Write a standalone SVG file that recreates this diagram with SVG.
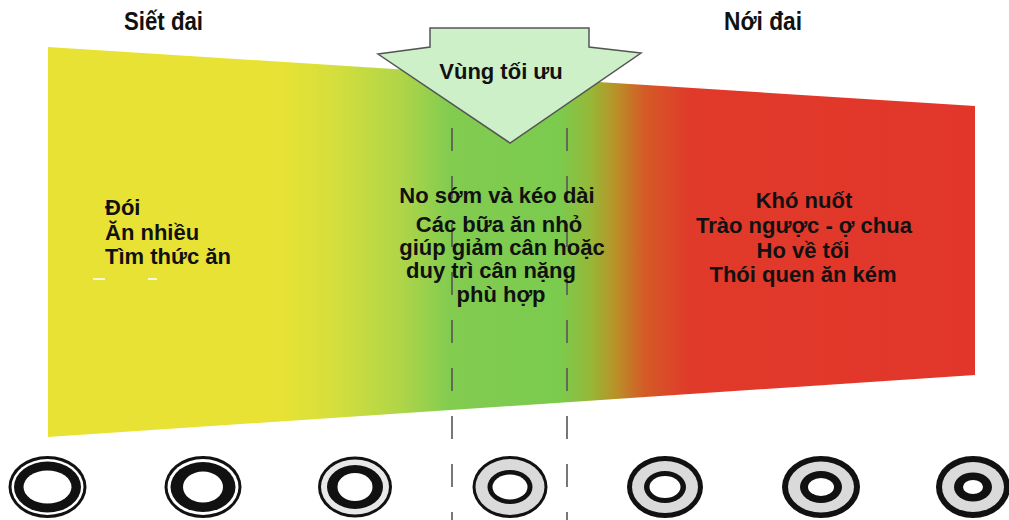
<svg xmlns="http://www.w3.org/2000/svg" width="1009" height="520" viewBox="0 0 1009 520">
  <style>
    .txt { font-family: "Liberation Sans", Arial, sans-serif; font-weight: bold; font-size: 22px; fill: #111; }
    .head { font-family: "Liberation Sans", Arial, sans-serif; font-weight: bold; font-size: 25px; fill: #111; }
    .dash { stroke: #555; stroke-width: 1.6; stroke-dasharray: 23 25; fill: none; }
    .k { fill: #111; }
    .w { fill: #fff; }
    .g { fill: #dadada; }
    .lg { fill: #e8e8e8; }
  </style>
  <defs>
    <linearGradient id="band" gradientUnits="userSpaceOnUse" x1="48" y1="0" x2="975" y2="0">
      <stop offset="0" stop-color="#e8e234"/>
      <stop offset="0.25" stop-color="#e8e234"/>
      <stop offset="0.305" stop-color="#d6df3c"/>
      <stop offset="0.38" stop-color="#b0d548"/>
      <stop offset="0.434" stop-color="#82cc50"/>
      <stop offset="0.552" stop-color="#7bcb4e"/>
      <stop offset="0.585" stop-color="#96b838"/>
      <stop offset="0.612" stop-color="#b89228"/>
      <stop offset="0.644" stop-color="#d45a26"/>
      <stop offset="0.693" stop-color="#e03a2a"/>
      <stop offset="1" stop-color="#e2362a"/>
    </linearGradient>
  </defs>

  <rect width="1009" height="520" fill="#fff"/>

  <!-- tapered colour band -->
  <g id="band-shape">
    <polygon points="48,47 975,106 975,375 48,437" fill="url(#band)"/>
    <rect x="93" y="278" width="12" height="2" fill="#fff" opacity="0.8"/>
    <rect x="148" y="278" width="9" height="2" fill="#fff" opacity="0.8"/>
  </g>

  <!-- boundaries of the optimal zone -->
  <g id="connectors">
    <line class="dash" x1="452" y1="80" x2="452" y2="520"/>
    <line class="dash" x1="567" y1="80" x2="567" y2="520"/>
  </g>

  <!-- pointer arrow -->
  <g id="optimal-arrow">
    <polygon points="430,28 589,28 589,47 641,53 510,143 378,54 430,47" fill="#cdf0c9" stroke="#555" stroke-width="1.5" stroke-linejoin="miter"/>
    <text class="txt" x="501" y="79" text-anchor="middle" font-size="21">Vùng tối ưu</text>
  </g>

  <!-- headings -->
  <g id="heading-tight">
    <text class="head" x="124" y="30" textLength="79" lengthAdjust="spacingAndGlyphs">Siết đai</text>
  </g>
  <g id="heading-loose">
    <text class="head" x="724" y="30" textLength="78" lengthAdjust="spacingAndGlyphs">Nới đai</text>
  </g>

  <!-- left column -->
  <g id="tight-symptoms">
    <text class="txt" x="105" y="215">Đói</text>
    <text class="txt" x="105" y="240">Ăn nhiều</text>
    <text class="txt" x="105" y="264">Tìm thức ăn</text>
  </g>

  <!-- middle column -->
  <g id="optimal-effects" text-anchor="middle">
    <text class="txt" x="497" y="203">No sớm và kéo dài</text>
    <text class="txt" x="499" y="232">Các bữa ăn nhỏ</text>
    <text class="txt" x="502" y="255">giúp giảm cân hoặc</text>
    <text class="txt" x="491" y="278">duy trì cân nặng</text>
    <text class="txt" x="501" y="302">phù hợp</text>
  </g>

  <!-- right column -->
  <g id="loose-symptoms" text-anchor="middle">
    <text class="txt" x="804" y="208">Khó nuốt</text>
    <text class="txt" x="804" y="233">Trào ngược - ợ chua</text>
    <text class="txt" x="803" y="258">Ho về tối</text>
    <text class="txt" x="803" y="282">Thói quen ăn kém</text>
  </g>

  <!-- band cross-sections -->
  <g id="ring-1">
    <ellipse class="k" cx="47.5" cy="487" rx="39" ry="31"/>
    <ellipse class="w" cx="47.5" cy="487" rx="36" ry="28"/>
    <ellipse class="k" cx="47.5" cy="487" rx="33.5" ry="25.5"/>
    <ellipse class="w" cx="47.5" cy="487" rx="24" ry="16.5"/>
  </g>
  <g id="ring-2">
    <ellipse class="k" cx="203" cy="487" rx="38.5" ry="31"/>
    <ellipse class="w" cx="203" cy="487" rx="35.5" ry="28"/>
    <ellipse class="k" cx="203" cy="487" rx="32.5" ry="25"/>
    <ellipse class="w" cx="203" cy="487" rx="20" ry="15.5"/>
  </g>
  <g id="ring-3">
    <ellipse class="k" cx="355" cy="487" rx="37" ry="30.5"/>
    <ellipse class="lg" cx="355" cy="487" rx="34" ry="27.5"/>
    <ellipse class="k" cx="355" cy="487" rx="28" ry="22"/>
    <ellipse class="w" cx="355" cy="487" rx="17.5" ry="14"/>
  </g>
  <g id="ring-4">
    <ellipse class="k" cx="510" cy="487" rx="37.5" ry="31"/>
    <ellipse class="g" cx="510" cy="487" rx="34.5" ry="28"/>
    <ellipse class="k" cx="510" cy="487" rx="22.5" ry="17"/>
    <ellipse class="w" cx="510" cy="487" rx="17.5" ry="12.5"/>
  </g>
  <g id="ring-5">
    <ellipse class="k" cx="665" cy="487" rx="38" ry="31"/>
    <ellipse class="g" cx="665" cy="487" rx="33" ry="26"/>
    <ellipse class="k" cx="665" cy="487" rx="21" ry="16"/>
    <ellipse class="w" cx="665" cy="487" rx="15.5" ry="11"/>
  </g>
  <g id="ring-6">
    <ellipse class="k" cx="821" cy="487" rx="39" ry="31"/>
    <ellipse class="g" cx="821" cy="487" rx="33" ry="25.5"/>
    <ellipse class="k" cx="821" cy="487" rx="21" ry="16"/>
    <ellipse class="w" cx="821" cy="487" rx="13" ry="9"/>
  </g>
  <g id="ring-7">
    <ellipse class="k" cx="973" cy="487" rx="37" ry="31"/>
    <ellipse class="g" cx="973" cy="487" rx="31" ry="25"/>
    <ellipse class="k" cx="973" cy="487" rx="19" ry="14.5"/>
    <ellipse class="w" cx="973" cy="487" rx="10" ry="7"/>
  </g>
</svg>
